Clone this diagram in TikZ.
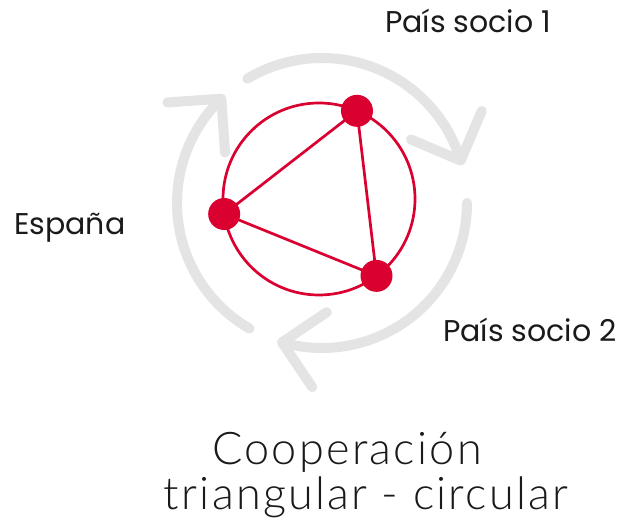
\documentclass[tikz,border=0pt]{standalone}
\usepackage{fontspec}
\setmainfont{Poppins}
\newfontfamily\titlefont[LetterSpace=5]{Lato Light}
\usetikzlibrary{calc}
\definecolor{cred}{RGB}{218,0,48}
\definecolor{cgray}{RGB}{228,228,228}
\definecolor{ctext}{RGB}{26,26,26}
\begin{document}
\begin{tikzpicture}[x=1pt,y=1pt,
 garrow/.style={cgray, line width=10pt, line cap=round, line join=round},
 redline/.style={cred, line width=2.7pt},
 dot/.style={circle, fill=cred, minimum size=32pt, inner sep=0pt},
 lbl/.style={anchor=base west, font=\fontsize{30}{34}\selectfont, text=ctext, inner sep=0pt},
 ttl/.style={anchor=base, font=\titlefont\fontsize{45}{50}\selectfont, inner sep=0pt, text=ctext}]
\useasboundingbox[fill=white] (0,0) rectangle (628,521);
\coordinate (G) at (322,318);
\coordinate (R) at (319,322);
% gray circular arrows
\foreach \s/\e in {121/17, 0/-106, 240/134} {
  \draw[garrow] ($(G)+(\s:145)$) arc[start angle=\s, end angle=\e, radius=145]
    ++(\e+50:54) -- ++(\e+230:54) -- ++(\e+140:54);
}
% red circle and triangle
\draw[redline] (R) circle[radius=96];
\coordinate (a) at ($(R)+(66.7:96)$);
\coordinate (b) at ($(R)+(189:96)$);
\coordinate (c) at ($(R)+(-53.2:96)$);
\draw[redline] (a) -- (b) -- (c) -- cycle;
\node[dot] (A) at (a) {};
\node[dot] (B) at (b) {};
\node[dot] (C) at (c) {};
% labels
\node[lbl] (p1) at (385,488) {País socio 1};
\node[lbl] (es) at (14,286) {España};
\node[lbl] (p2) at (443,179) {País socio 2};
\node[ttl] (t1) at (347,56) {Cooperación};
\node[ttl] (t2) at (366,11) {triangular - circular};
\end{tikzpicture}
\end{document}
